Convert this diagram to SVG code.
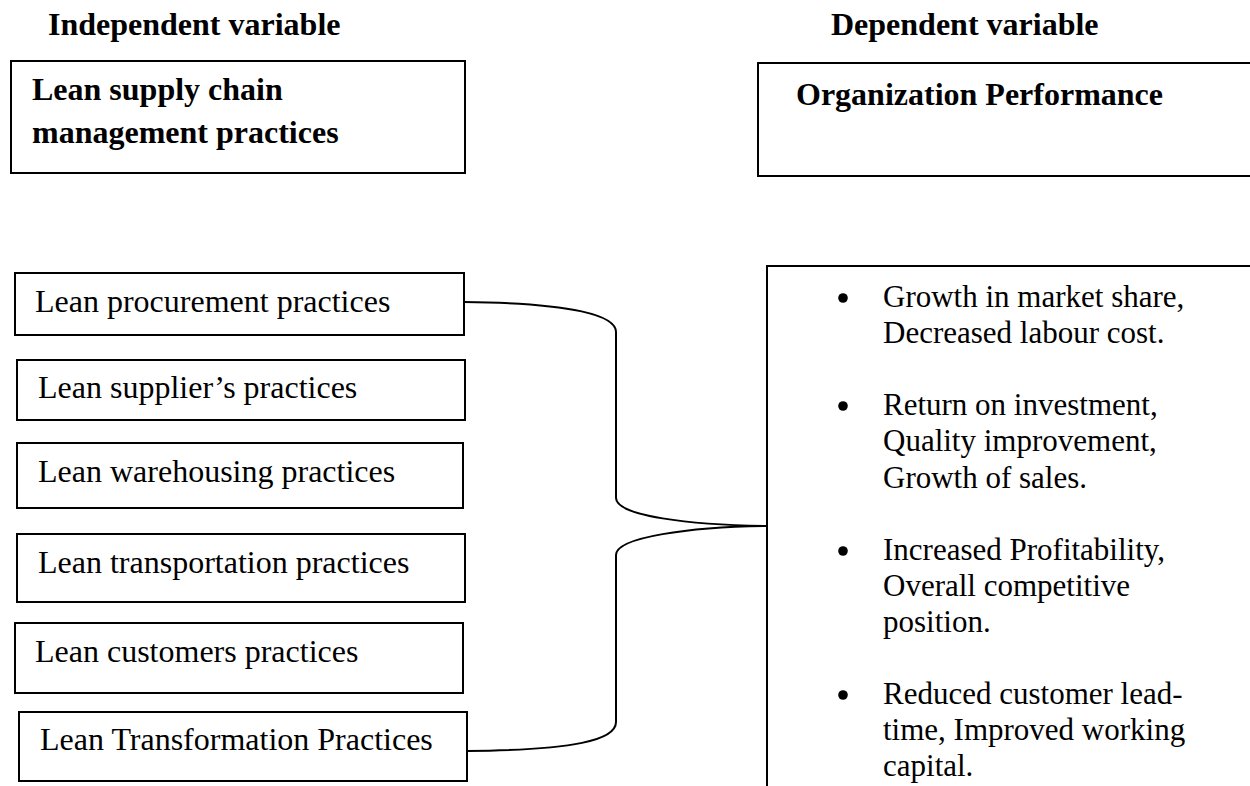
<svg xmlns="http://www.w3.org/2000/svg" width="1250" height="786" viewBox="0 0 1250 786">
<style>
.box{fill:#fff;stroke:#000;stroke-width:2}
.t{font-family:"Liberation Serif","Times New Roman",serif;font-size:32px;fill:#000}
.b{font-weight:bold}
.r{font-size:31px}
.con{fill:none;stroke:#000;stroke-width:2}
</style>
<rect width="1250" height="786" fill="#fff"/>
<text class="t b" x="48" y="35">Independent variable</text>
<text class="t b" x="831" y="35">Dependent variable</text>

<g id="lscm">
<rect class="box" x="11" y="61" width="454" height="112"/>
<text class="t b" x="32" y="100">Lean supply chain</text>
<text class="t b" x="32" y="143">management practices</text>
</g>
<g id="orgperf">
<rect class="box" x="758" y="63" width="520" height="113"/>
<text class="t b" x="796" y="105">Organization Performance</text>
</g>

<g id="n1"><rect class="box" x="15" y="273" width="449" height="62"/><text class="t" x="35" y="312">Lean procurement practices</text></g>
<g id="n2"><rect class="box" x="17" y="360" width="448" height="60"/><text class="t" x="38" y="398">Lean supplier’s practices</text></g>
<g id="n3"><rect class="box" x="17" y="443" width="446" height="65"/><text class="t" x="38" y="482">Lean warehousing practices</text></g>
<g id="n4"><rect class="box" x="17" y="534" width="448" height="68"/><text class="t" x="38" y="573">Lean transportation practices</text></g>
<g id="n5"><rect class="box" x="15" y="623" width="448" height="70"/><text class="t" x="35" y="662">Lean customers practices</text></g>
<g id="n6"><rect class="box" x="19" y="712" width="448" height="69"/><text class="t" x="40" y="750">Lean Transformation Practices</text></g>

<g id="outcomes">
<rect class="box" x="767" y="266" width="520" height="540"/>
<g class="t r">
<circle cx="843" cy="298" r="4.8"/>
<text x="883" y="307">Growth in market share,</text>
<text x="883" y="343">Decreased labour cost.</text>
<circle cx="843" cy="406" r="4.8"/>
<text x="883" y="415">Return on investment,</text>
<text x="883" y="451">Quality improvement,</text>
<text x="883" y="488">Growth of sales.</text>
<circle cx="843" cy="551" r="4.8"/>
<text x="883" y="560">Increased Profitability,</text>
<text x="883" y="596">Overall competitive</text>
<text x="883" y="632">position.</text>
<circle cx="843" cy="695" r="4.8"/>
<text x="883" y="704">Reduced customer lead-</text>
<text x="883" y="740">time, Improved working</text>
<text x="883" y="776">capital.</text>
</g>
</g>

<g id="connectors">
<path class="con" d="M464,302 C575,303 616,316 616,332 L616,498 C616,516 690,525 767,526"/>
<path class="con" d="M767,526 C690,527 616,537 616,555 L616,722 C616,740 575,750 467,751"/>
</g>
</svg>
